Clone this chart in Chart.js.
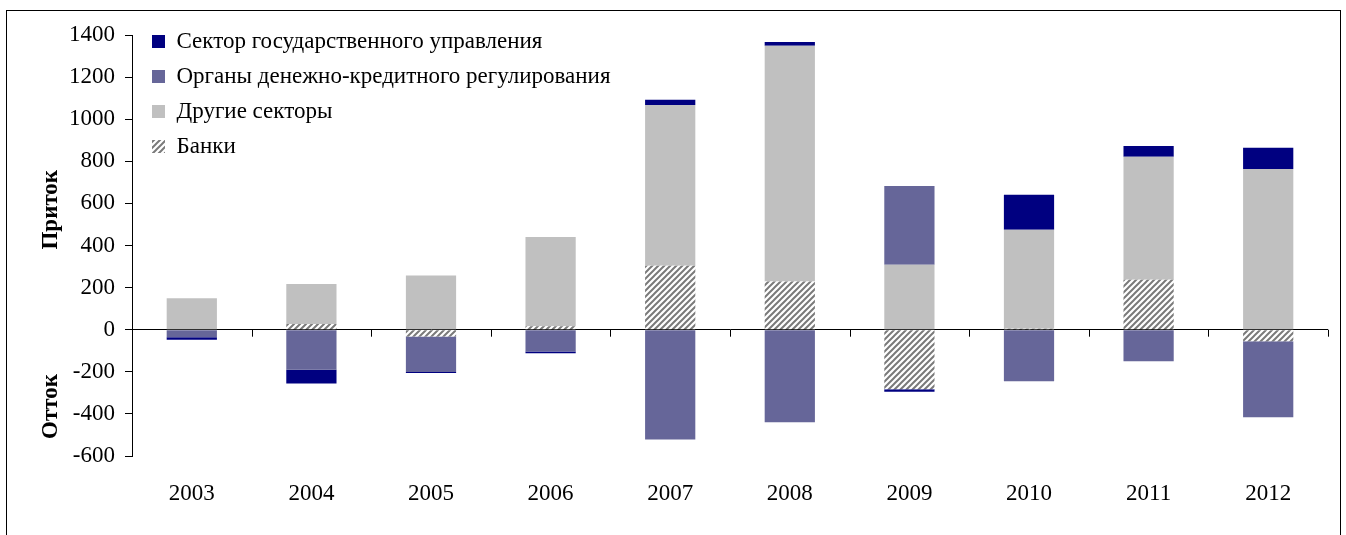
<!DOCTYPE html>
<html>
<head>
<meta charset="utf-8">
<script src="https://cdn.jsdelivr.net/npm/chart.js@4/dist/chart.umd.min.js"></script>
<style>
  body { margin: 0; background: #fff; }
  #frame { position: absolute; left: 6px; top: 10px; width: 1335px; height: 540px; border: 1px solid #000; box-sizing: border-box; }
  #chart { position: absolute; left: 0; top: 0; }
</style>
</head>
<body>
<div id="frame"></div>
<canvas id="chart" width="1346" height="535"></canvas>
<script>
'use strict';

const years = ['2003', '2004', '2005', '2006', '2007', '2008', '2009', '2010', '2011', '2012'];
const banks = [0, 27, -32, 16, 304, 229, -283, 5, 237, -55];
const otherSectors = [150, 190, 258, 424, 764, 1120, 308, 470, 585, 764];
const monetaryAuth = [-36, -190, -169, -104, -522, -440, 375, -245, -150, -361];
const generalGov = [-12, -66, -5, -8, 24, 18, -12, 166, 51, 100];

const FONT = '"Liberation Serif", "Times New Roman", serif';

const makeHatch = function () {
    const c = document.createElement('canvas');
    c.width = 6;
    c.height = 6;
    const g = c.getContext('2d');
    g.fillStyle = '#ffffff';
    g.fillRect(0, 0, 6, 6);
    g.strokeStyle = '#7a7a7a';
    g.lineWidth = 2;
    g.beginPath();
    g.moveTo(0, 6); g.lineTo(6, 0);
    g.moveTo(-1, 1); g.lineTo(1, -1);
    g.moveTo(5, 7); g.lineTo(7, 5);
    g.stroke();
    return g.createPattern(c, 'repeat');
};

// small tick marks on the zero line between categories + side titles
const extras = {
    id: 'extras',
    afterLayout: function (chart) {
        // put the legend inside the plot, top-left
        chart.legend.left = 140;
        chart.legend.top = 18;
    },
    afterDatasetsDraw: function (chart) {
        const ctx = chart.ctx;
        const x = chart.scales.x;
        const y = chart.scales.y;
        const y0 = y.getPixelForValue(0);
        ctx.save();
        ctx.strokeStyle = '#000';
        ctx.lineWidth = 1;
        ctx.beginPath();
        for (let i = 0; i <= years.length; i++) {
            const px = Math.round(x.getPixelForValue(i - 0.5)) + 0.5;
            ctx.moveTo(px, y0);
            ctx.lineTo(px, y0 + 7);
        }
        ctx.stroke();

        ctx.fillStyle = '#000';
        ctx.font = 'bold 23px ' + FONT;
        ctx.textAlign = 'center';
        ctx.textBaseline = 'middle';
        [['Приток', 570], ['Отток', -365]].forEach(function (t) {
            ctx.save();
            ctx.translate(51, y.getPixelForValue(t[1]));
            ctx.rotate(-Math.PI / 2);
            ctx.fillText(t[0], 0, 0);
            ctx.restore();
        });
        ctx.restore();
    }
};

const ctx = document.getElementById('chart').getContext('2d');
const chart = new Chart(ctx, {
    type: 'bar',
    data: {
        labels: years,
        datasets: [{
            label: 'Банки',
            data: banks,
            backgroundColor: makeHatch()
        }, {
            label: 'Другие секторы',
            data: otherSectors,
            backgroundColor: '#c0c0c0'
        }, {
            label: 'Органы денежно-кредитного регулирования',
            data: monetaryAuth,
            backgroundColor: '#666699'
        }, {
            label: 'Сектор государственного управления',
            data: generalGov,
            backgroundColor: '#000080'
        }]
    },
    options: {
        responsive: false,
        animation: false,
        devicePixelRatio: 1,
        layout: {
            padding: { left: 0, top: 35, right: 18, bottom: 0 }
        },
        datasets: {
            bar: {
                barPercentage: 0.42,
                categoryPercentage: 1
            }
        },
        plugins: {
            legend: {
                position: 'chartArea',
                align: 'start',
                reverse: true,
                labels: {
                    boxWidth: 13,
                    boxHeight: 13,
                    padding: 12,
                    color: '#000',
                    font: { family: FONT, size: 23 }
                }
            },
            tooltip: { enabled: false }
        },
        scales: {
            x: {
                stacked: true,
                grid: { display: false, drawTicks: false },
                border: { display: false },
                ticks: {
                    color: '#000',
                    padding: 24,
                    font: { family: FONT, size: 23 }
                },
                afterFit: function (scale) {
                    scale.height = 535 - 456;
                }
            },
            y: {
                stacked: true,
                min: -600,
                max: 1400,
                ticks: {
                    stepSize: 200,
                    color: '#000',
                    padding: 10,
                    font: { family: FONT, size: 23 },
                    callback: function (v) { return String(v); }
                },
                grid: {
                    color: function (c) {
                        return c.tick && c.tick.value === 0 ? '#000' : 'rgba(0,0,0,0)';
                    },
                    tickColor: '#000',
                    tickLength: 7,
                    lineWidth: 1
                },
                border: { display: true, color: '#000', width: 1 },
                afterFit: function (scale) {
                    scale.width = 132;
                }
            }
        }
    },
    plugins: [extras]
});
</script>
</body>
</html>
